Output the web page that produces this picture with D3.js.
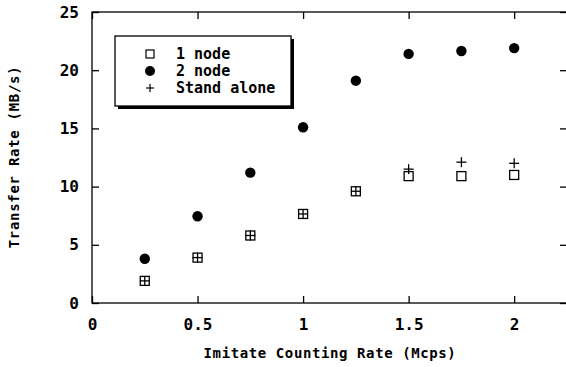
<!DOCTYPE html>
<html><head><meta charset="utf-8">
<script src="https://cdn.jsdelivr.net/npm/d3@7"></script>
<style>body{margin:0;background:#fff}svg{display:block}</style>
</head><body>
<svg id="c" width="566" height="367"></svg>
<script>
const xValues = [0.25, 0.5, 0.75, 1.0, 1.25, 1.5, 1.75, 2.0];
const oneNode = [1.9, 3.9, 5.8, 7.65, 9.6, 10.9, 10.9, 11.0];
const twoNode = [3.8, 7.45, 11.2, 15.1, 19.1, 21.4, 21.65, 21.9];
const standAlone = [1.9, 3.9, 5.8, 7.65, 9.6, 11.5, 12.1, 12.0];
const xTicks = [0, 0.5, 1, 1.5, 2];
const xTickLabels = ["0", "0.5", "1", "1.5", "2"];
const yTicks = [0, 5, 10, 15, 20, 25];
const seriesNames = ["1 node", "2 node", "Stand alone"];

const svg = d3.select("#c");
const L = 92, R = 568, T = 12, B = 303;
const x = d3.scaleLinear().domain([0, 2.255]).range([L, R]);
const y = d3.scaleLinear().domain([0, 25]).range([B, T]);
const font = "'DejaVu Sans Mono', monospace";

// frame
svg.append("rect").attr("x", L).attr("y", T).attr("width", R - L).attr("height", B - T)
  .attr("fill", "none").attr("stroke", "#000").attr("stroke-width", 1.3);

// x ticks (inward on bottom and top)
const gx = svg.append("g").attr("transform", `translate(0,${B})`)
  .call(d3.axisBottom(x).tickValues(xTicks).tickSize(-7).tickPadding(16)
    .tickFormat((d, i) => xTickLabels[i]));
gx.select(".domain").remove();
gx.selectAll("line").attr("stroke-width", 1.3);
gx.selectAll("text").attr("font-family", font).attr("font-size", 16).attr("font-weight", "bold")
  .attr("fill", "#000");

const gxt = svg.append("g").attr("transform", `translate(0,${T})`)
  .call(d3.axisTop(x).tickValues(xTicks).tickSize(-7).tickFormat(""));
gxt.select(".domain").remove();
gxt.selectAll("line").attr("stroke-width", 1.3);

// y ticks inward on left and right
const gy = svg.append("g").attr("transform", `translate(${L},0)`)
  .call(d3.axisLeft(y).tickValues(yTicks).tickSize(-7).tickPadding(13));
gy.select(".domain").remove();
gy.selectAll("line").attr("stroke-width", 1.3);
gy.selectAll("text").attr("font-family", font).attr("font-size", 16).attr("font-weight", "bold")
  .attr("fill", "#000");

const gyr = svg.append("g").attr("transform", `translate(${R},0)`)
  .call(d3.axisRight(y).tickValues(yTicks).tickSize(-8).tickFormat(""));
gyr.select(".domain").remove();
gyr.selectAll("line").attr("stroke-width", 1.3);

// axis titles
svg.append("text").attr("x", 330).attr("y", 358).attr("text-anchor", "middle")
  .attr("font-family", font).attr("font-size", 14).attr("font-weight", "bold")
  .attr("letter-spacing", 0.6).text("Imitate Counting Rate (Mcps)");
svg.append("text").attr("transform", "translate(19,157) rotate(-90)").attr("text-anchor", "middle")
  .attr("font-family", font).attr("font-size", 14).attr("font-weight", "bold")
  .attr("letter-spacing", 0.7).text("Transfer Rate (MB/s)");

// data
const sq = 9;
svg.append("g").selectAll("rect").data(xValues.map((v, i) => [v, oneNode[i]])).join("rect")
  .attr("x", d => x(d[0]) - sq / 2).attr("y", d => y(d[1]) - sq / 2)
  .attr("width", sq).attr("height", sq).attr("fill", "#fff").attr("stroke", "#000").attr("stroke-width", 1.3);
svg.append("g").selectAll("circle").data(xValues.map((v, i) => [v, twoNode[i]])).join("circle")
  .attr("cx", d => x(d[0])).attr("cy", d => y(d[1])).attr("r", 5.2).attr("fill", "#000");
const plus = svg.append("g").attr("stroke", "#000").attr("stroke-width", 1.3);
const pd = xValues.map((v, i) => [v, standAlone[i]]);
plus.selectAll("line.h").data(pd).join("line").attr("class", "h")
  .attr("x1", d => x(d[0]) - 5).attr("x2", d => x(d[0]) + 5)
  .attr("y1", d => y(d[1])).attr("y2", d => y(d[1]));
plus.selectAll("line.v").data(pd).join("line").attr("class", "v")
  .attr("x1", d => x(d[0])).attr("x2", d => x(d[0]))
  .attr("y1", d => y(d[1]) - 5).attr("y2", d => y(d[1]) + 5);

// legend
const lg = svg.append("g");
lg.append("rect").attr("x", 118).attr("y", 39).attr("width", 176).attr("height", 70).attr("fill", "#000");
lg.append("rect").attr("x", 115).attr("y", 36).attr("width", 176).attr("height", 70)
  .attr("fill", "#fff").attr("stroke", "#000").attr("stroke-width", 1.3);
const ly = [54, 71, 88];
lg.append("rect").attr("x", 146).attr("y", ly[0] - 4).attr("width", 8).attr("height", 8)
  .attr("fill", "#fff").attr("stroke", "#000").attr("stroke-width", 1.2);
lg.append("circle").attr("cx", 150).attr("cy", ly[1]).attr("r", 5).attr("fill", "#000");
lg.append("line").attr("x1", 146).attr("x2", 154).attr("y1", ly[2]).attr("y2", ly[2]).attr("stroke", "#000").attr("stroke-width", 1.2);
lg.append("line").attr("x1", 150).attr("x2", 150).attr("y1", ly[2] - 4).attr("y2", ly[2] + 4).attr("stroke", "#000").attr("stroke-width", 1.2);
lg.selectAll("text").data(seriesNames).join("text")
  .attr("x", 176).attr("y", (d, i) => ly[i] + 5)
  .attr("font-family", font).attr("font-size", 15).attr("font-weight", "bold")
  .attr("letter-spacing", 0).text(d => d);
</script>
</body></html>
